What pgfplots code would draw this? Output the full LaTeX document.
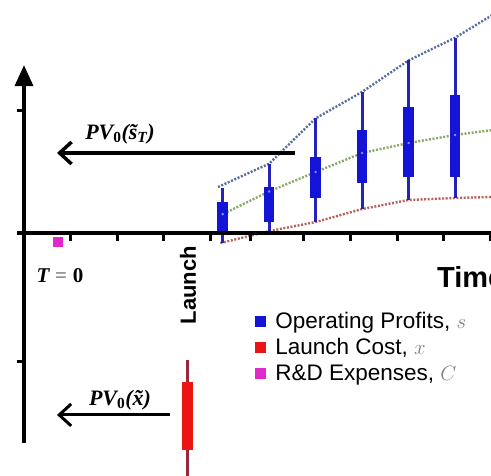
\documentclass[border=0pt]{standalone}
\usepackage{pgfplots}
\pgfplotsset{compat=1.18}
\usetikzlibrary{arrows.meta}
\usepackage{fontspec}
\setmainfont{Liberation Sans}
\newfontfamily\tnr{Liberation Serif}

\definecolor{boxblue}{RGB}{20,20,215}
\definecolor{whiskblue}{RGB}{35,35,185}
\definecolor{boxred}{RGB}{235,20,20}
\definecolor{whiskred}{RGB}{150,40,60}
\definecolor{rdmag}{RGB}{225,40,205}
\definecolor{dotblue}{RGB}{85,110,160}
\definecolor{dotgreen}{RGB}{135,170,100}
\definecolor{dotred}{RGB}{180,100,90}

\pgfplotsset{
  whisk/.style={forget plot, line width=3pt},
  box/.style={forget plot, line width=10.5pt},
  trend/.style={forget plot, line width=2.4pt, dash pattern=on 2pt off 1.6pt},
}

\begin{document}
\begin{tikzpicture}
\begin{axis}[
  at={(0,0)}, anchor=south west,
  scale only axis, width=491pt, height=475pt,
  xmin=-0.5376, xmax=10.0215, ymin=-1.9206, ymax=1.8492,
  hide axis,
  legend style={at={(axis cs:4.946,-0.62)}, anchor=north west,
    draw=none, fill=none, inner sep=0pt, row sep=6.5pt,
    nodes={inner sep=1pt},
    font=\fontsize{22.5}{27}\selectfont},
  legend cell align=left,
  legend image code/.code={\fill[#1] (0pt,-5pt) rectangle (10pt,5pt); \path[draw=none,fill=none] (0pt,-1pt) rectangle (19pt,1pt);},
]
\addlegendimage{boxblue}
\addlegendentry{Operating Profits, {\color{gray}$s$}}
\addlegendimage{boxred}
\addlegendentry{Launch Cost, {\color{gray}$x$}}
\addlegendimage{rdmag}
\addlegendentry{R\&D Expenses, {\color{gray}$C$}}

% envelopes through whisker ends and medians
\addplot[trend, dotblue] coordinates {(4.15,0.365) (5.25,0.55) (6.25,0.91) (7.25,1.12) (8.25,1.37) (9.25,1.55) (10.05,1.73)};
\addplot[trend, dotgreen] coordinates {(4.2,0.14) (5.25,0.33) (6.25,0.484) (7.25,0.635) (8.25,0.714) (9.25,0.778) (10.05,0.817)};
\addplot[trend, dotred] coordinates {(4.2,-0.08) (5.25,0.015) (6.25,0.087) (7.25,0.19) (8.25,0.262) (9.25,0.278) (10.05,0.286)};

% operating profits: whiskers, then boxes (quartiles)
\addplot[whisk, whiskblue] coordinates {(4.25,-0.08) (4.25,0.36)};
\addplot[whisk, whiskblue] coordinates {(5.25,0.015) (5.25,0.55)};
\addplot[whisk, whiskblue] coordinates {(6.25,0.087) (6.25,0.91)};
\addplot[whisk, whiskblue] coordinates {(7.25,0.19) (7.25,1.12)};
\addplot[whisk, whiskblue] coordinates {(8.25,0.262) (8.25,1.37)};
\addplot[whisk, whiskblue] coordinates {(9.25,0.278) (9.25,1.55)};
\addplot[box, boxblue] coordinates {(4.25,0.0) (4.25,0.246)};
\addplot[box, boxblue] coordinates {(5.25,0.087) (5.25,0.365)};
\addplot[box, boxblue] coordinates {(6.25,0.278) (6.25,0.603)};
\addplot[box, boxblue] coordinates {(7.25,0.397) (7.25,0.817)};
\addplot[box, boxblue] coordinates {(8.25,0.444) (8.25,1.0)};
\addplot[box, boxblue] coordinates {(9.25,0.444) (9.25,1.095)};
% medians
\addplot[forget plot, only marks, mark=*, mark size=1pt, color=boxblue!45!white] coordinates {(4.25,0.15) (5.25,0.33) (6.25,0.484) (7.25,0.635) (8.25,0.714) (9.25,0.778)};

% launch cost
\addplot[whisk, whiskred] coordinates {(3.50,-2.0) (3.50,-1.008)};
\addplot[box, boxred, line width=11pt] coordinates {(3.50,-1.722) (3.50,-1.183)};

% R&D expenses
\addplot[forget plot, only marks, mark=square*, mark size=4.5pt, color=rdmag] coordinates {(0.71,-0.071)};

% axes
\draw[line width=3.5pt] (axis cs:-0.172,0) -- (axis cs:10.2,0);
\draw[line width=3.5pt, -{Triangle[length=21pt,width=18pt]}] (axis cs:-0.0215,-1.667) -- (axis cs:-0.0215,1.333);
\draw[line width=3pt] (axis cs:0,0.976) -- ++(-8pt,0pt) (axis cs:0,-1.016) -- ++(-8pt,0pt);
\draw[line width=3pt]
  (axis cs:0.97,0) -- ++(0pt,-8pt) (axis cs:1.98,0) -- ++(0pt,-8pt)
  (axis cs:2.97,0) -- ++(0pt,-8pt) (axis cs:3.98,0) -- ++(0pt,-8pt)
  (axis cs:4.86,0) -- ++(0pt,-8pt) (axis cs:5.98,0) -- ++(0pt,-8pt)
  (axis cs:6.99,0) -- ++(0pt,-8pt) (axis cs:8.0,0) -- ++(0pt,-8pt)
  (axis cs:8.99,0) -- ++(0pt,-8pt) (axis cs:10.0,0) -- ++(0pt,-8pt);

% present value arrows
\draw[line width=3.5pt, -{Straight Barb[length=12pt,width=22pt]}] (axis cs:5.806,0.635) -- (axis cs:0.688,0.635);
\draw[line width=3pt, -{Straight Barb[length=12pt,width=22pt]}] (axis cs:3.118,-1.444) -- (axis cs:0.688,-1.444);

% labels
\node[font=\fontsize{22}{26}\selectfont\tnr\bfseries\itshape] at (axis cs:2.043,0.786) {PV\textsubscript{\upshape 0}(\~{s}\textsubscript{T})};
\node[font=\fontsize{22}{26}\selectfont\tnr\bfseries\itshape] at (axis cs:2.043,-1.325) {PV\textsubscript{\upshape 0}(\~{x})};
\node[font=\fontsize{21}{25}\selectfont\tnr\bfseries] at (axis cs:0.753,-0.341) {\itshape T\;{\upshape\color{gray}=}\;\upshape 0};
\node[font=\fontsize{22}{26}\selectfont\bfseries, rotate=90] at (axis cs:3.505,-0.413) {Launch};
\node[font=\fontsize{29}{34}\selectfont\bfseries, anchor=base west, inner sep=0pt] at (axis cs:8.86,-0.429) {Time};
\end{axis}
\pgfresetboundingbox
\useasboundingbox (0,0) rectangle (491pt,475pt);
\end{tikzpicture}
\end{document}
